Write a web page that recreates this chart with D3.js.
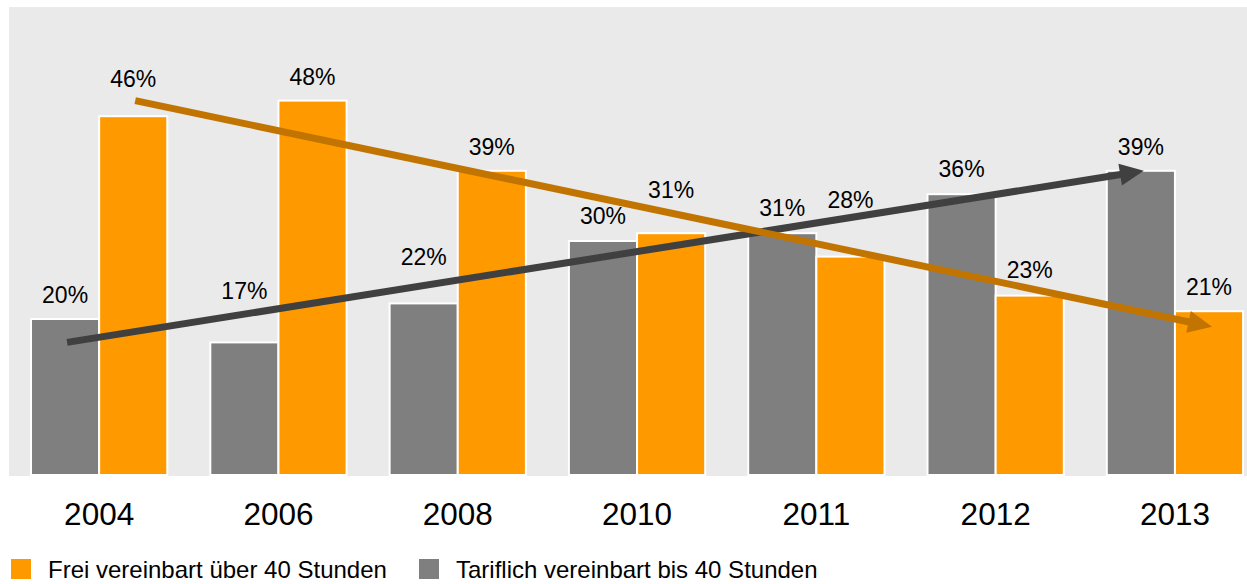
<!DOCTYPE html>
<html>
<head>
<meta charset="utf-8">
<script src="https://cdn.jsdelivr.net/npm/d3@7"></script>
<style>
  body { margin: 0; background: #fff; }
  svg { display: block; font-family: "Liberation Sans", Arial, sans-serif; }
</style>
</head>
<body>
<div id="chart"></div>
<script>
// data
const years = ['2004', '2006', '2008', '2010', '2011', '2012', '2013'];
const tariflich = [20, 17, 22, 30, 31, 36, 39];
const frei = [46, 48, 39, 31, 28, 23, 21];
const seriesNames = ['Frei vereinbart über 40 Stunden', 'Tariflich vereinbart bis 40 Stunden'];
// trend arrows: [start value (first year), end value (last year)]
const trendFrei = [48, 19];
const trendTarif = [17, 39];

// label lift above bar top (px), some labels are pushed up to clear the arrows
const liftTarif = [16, 43, 38, 17, 17, 17, 16];
const liftFrei = [29, 16, 16, 35, 49, 18, 16];

const W = 1247, H = 584;
const plot = { left: 9, top: 7, bottom: 476, right: 1247 };
const colors = { frei: '#FF9900', tarif: '#7F7F7F', bg: '#EAEAEA', arrowFrei: '#C27400', arrowTarif: '#404040' };

const svg = d3.select('#chart').append('svg')
  .attr('width', W)
  .attr('height', H);

svg.append('rect')
  .attr('x', plot.left).attr('y', plot.top)
  .attr('width', plot.right - plot.left)
  .attr('height', plot.bottom - plot.top)
  .attr('fill', colors.bg);

const x0 = d3.scaleBand().domain(years).range([9.5, 1264.6])
  .paddingInner(0.24).paddingOuter(0.12);
const x1 = d3.scaleBand().domain(['tarif', 'frei']).range([0, x0.bandwidth()]);
const y = d3.scaleLinear().domain([0, 60]).range([475, 7]);

const rows = years.map((yr, i) => ({ year: yr, tarif: tariflich[i], frei: frei[i], i }));

const groups = svg.selectAll('g.year')
  .data(rows)
  .enter().append('g')
  .attr('class', 'year')
  .attr('transform', d => 'translate(' + x0(d.year) + ',0)');

groups.selectAll('rect')
  .data(d => ['tarif', 'frei'].map(k => ({ key: k, value: d[k] })))
  .enter().append('rect')
  .attr('x', d => x1(d.key))
  .attr('y', d => y(d.value))
  .attr('width', x1.bandwidth())
  .attr('height', d => y(0) - y(d.value))
  .attr('fill', d => colors[d.key])
  .attr('stroke', '#fff')
  .attr('stroke-width', 2);

// x axis (year labels only)
const xAxis = svg.append('g')
  .attr('transform', 'translate(0,' + plot.bottom + ')')
  .call(d3.axisBottom(x0).tickSize(0).tickPadding(0));
xAxis.select('.domain').remove();
xAxis.selectAll('text')
  .attr('y', 49)
  .attr('dy', 0)
  .style('font-size', '31.5px')
  .style('font-family', '"Liberation Sans", Arial, sans-serif')
  .attr('fill', '#000');

// trend arrows
function arrow(vals, key, color) {
  const xa = x0(years[0]) + x1(key) + x1.bandwidth() / 2 + 2;
  const xb = x0(years[years.length - 1]) + x1(key) + x1.bandwidth() / 2 + 3;
  const ya = y(vals[0]), yb = y(vals[1]);
  const len = Math.hypot(xb - xa, yb - ya);
  const ux = (xb - xa) / len, uy = (yb - ya) / len;
  const headLen = 24, headHalf = 11;
  const bx = xb - ux * headLen, by = yb - uy * headLen;
  svg.append('line')
    .attr('x1', xa).attr('y1', ya)
    .attr('x2', bx + ux * 2).attr('y2', by + uy * 2)
    .attr('stroke', color)
    .attr('stroke-width', 7);
  svg.append('polygon')
    .attr('points', [
      [xb, yb],
      [bx - uy * headHalf, by + ux * headHalf],
      [bx + uy * headHalf, by - ux * headHalf]
    ].map(p => p.join(',')).join(' '))
    .attr('fill', color);
}

// value labels
groups.append('text')
  .attr('x', x1('tarif') + x1.bandwidth() / 2)
  .attr('y', d => y(d.tarif) - liftTarif[d.i])
  .attr('text-anchor', 'middle')
  .style('font-size', '23px')
  .text(d => d.tarif + '%');
groups.append('text')
  .attr('x', x1('frei') + x1.bandwidth() / 2)
  .attr('y', d => y(d.frei) - liftFrei[d.i])
  .attr('text-anchor', 'middle')
  .style('font-size', '23px')
  .text(d => d.frei + '%');

arrow(trendTarif, 'tarif', colors.arrowTarif);
arrow(trendFrei, 'frei', colors.arrowFrei);

// legend
const legend = svg.append('g');
const legendItems = [
  { name: seriesNames[0], color: colors.frei, x: 11 },
  { name: seriesNames[1], color: colors.tarif, x: 419 }
];
legendItems.forEach(it => {
  legend.append('rect')
    .attr('x', it.x).attr('y', 559)
    .attr('width', 20).attr('height', 20)
    .attr('fill', it.color);
  legend.append('text')
    .attr('x', it.x + 37).attr('y', 578)
    .style('font-size', '24px')
    .text(it.name);
});
</script>
</body>
</html>
